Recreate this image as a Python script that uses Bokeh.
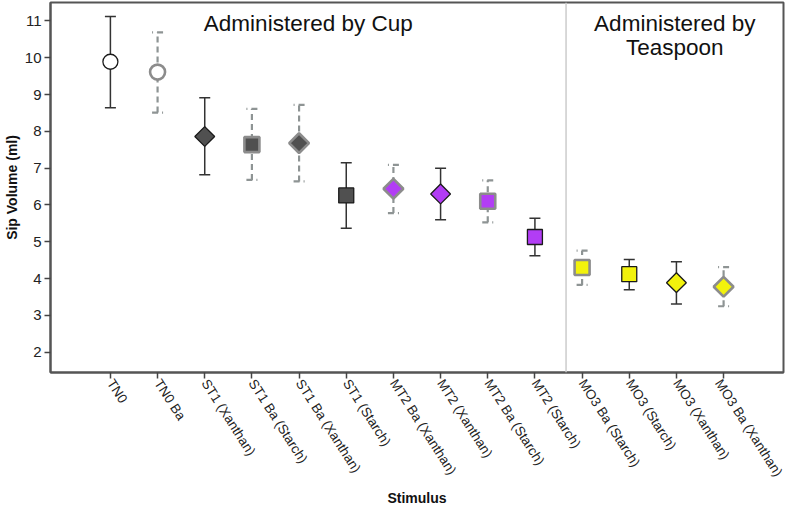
import numpy as np
from bokeh.plotting import figure
from bokeh.models import (ColumnDataSource, Whisker, TeeHead, Span, Label,
                          FixedTicker, Range1d)
from bokeh.embed import file_html
from bokeh.resources import INLINE

# ---- data ----
categories = ["TN0", "TN0 Ba", "ST1 (Xanthan)", "ST1 Ba (Starch)", "ST1 Ba (Xanthan)",
              "ST1 (Starch)", "MT2 Ba (Xanthan)", "MT2 (Xanthan)", "MT2 Ba (Starch)",
              "MT2 (Starch)", "MO3 Ba (Starch)", "MO3 (Starch)", "MO3 (Xanthan)",
              "MO3 Ba (Xanthan)"]
means = [9.89, 9.61, 7.86, 7.64, 7.68, 6.26, 6.44, 6.30, 6.10, 5.13, 4.30, 4.12, 3.89, 3.78]
upper = [11.12, 10.69, 8.91, 8.61, 8.72, 7.15, 7.09, 7.00, 6.67, 5.64, 4.76, 4.52, 4.46, 4.31]
lower = [8.64, 8.51, 6.82, 6.68, 6.64, 5.37, 5.78, 5.60, 5.53, 4.62, 3.83, 3.70, 3.31, 3.25]
y_ticks = [2, 3, 4, 5, 6, 7, 8, 9, 10, 11]
section_titles = [["Administered by Cup"], ["Administered by", "Teaspoon"]]

# ---- styling derived from stimulus names ----
FONT = "Liberation Sans"
group_fill = {"TN0": "#ffffff", "ST1": "#505050", "MT2": "#b23df5", "MO3": "#f2f20c"}
x_start, x_end = -1.27, 14.27
divider_x = 9.66

xs = np.arange(len(categories))
fills, outlines, owidths, markers, angles, sizes, dashed = [], [], [], [], [], [], []
for c in categories:
    g = c.split()[0]
    ba = " Ba" in c
    fills.append(group_fill[g])
    outlines.append("#8c8c8c" if ba else "#1a1a1a")
    owidths.append(2.6 if ba else 1.3)
    if "Xanthan" in c:
        markers.append("square"); angles.append(np.pi / 4); sizes.append(14)
    elif "Starch" in c:
        markers.append("square"); angles.append(0.0); sizes.append(15)
    else:
        markers.append("circle"); angles.append(0.0); sizes.append(15)
    dashed.append(ba)

data = dict(x=xs, y=means, upper=upper, lower=lower, fill=fills, outline=outlines,
            ow=owidths, marker=markers, angle=angles, size=sizes)
src = ColumnDataSource(data)
solid_idx = [i for i, d in enumerate(dashed) if not d]
dash_idx = [i for i, d in enumerate(dashed) if d]
src_solid = ColumnDataSource({k: [v[i] for i in solid_idx] for k, v in data.items()})
src_dash = ColumnDataSource({k: [v[i] for i in dash_idx] for k, v in data.items()})

p = figure(width=785, height=509, output_backend="svg", toolbar_location=None,
           x_range=Range1d(x_start, x_end), y_range=Range1d(1.45, 11.5),
           min_border_left=0, min_border_top=2, min_border_right=2, min_border_bottom=0)
p.grid.visible = False
p.outline_line_color = "#555555"
p.outline_line_width = 2
p.background_fill_color = "white"
p.border_fill_color = "white"

# error bars
solid_head = dict(size=11, line_color="#333333", line_width=1.5)
p.add_layout(Whisker(source=src_solid, base="x", upper="upper", lower="lower",
                     dimension="height", line_color="#333333", line_width=1.5,
                     upper_head=TeeHead(**solid_head), lower_head=TeeHead(**solid_head)))
dash_head = dict(size=11, line_color="#8e9494", line_width=2.2, line_dash="6 4")
p.add_layout(Whisker(source=src_dash, base="x", upper="upper", lower="lower",
                     dimension="height", line_color="#8e9494", line_width=2.2,
                     line_dash="6 4",
                     upper_head=TeeHead(**dash_head), lower_head=TeeHead(**dash_head)))

# markers
p.scatter(x="x", y="y", source=src, marker="marker", angle="angle", size="size",
          fill_color="fill", line_color="outline", line_width="ow")

# divider
p.add_layout(Span(location=divider_x, dimension="height", line_color="#cccccc",
                  line_width=1.5))

# section titles
centers = [(x_start + divider_x) / 2, (divider_x + x_end) / 2]
baselines = [10.92, 10.29]
for cx, lines in zip(centers, section_titles):
    for j, t in enumerate(lines):
        p.add_layout(Label(x=cx, y=baselines[j], text=t, text_align="center",
                           text_baseline="alphabetic", text_font=FONT,
                           text_font_size="22.5px", text_color="#111111"))

# axes
for ax in (p.xaxis[0], p.yaxis[0]):
    ax.axis_line_color = "#555555"
    ax.axis_line_width = 2
    ax.major_tick_line_color = "#444444"
    ax.major_tick_line_width = 1.5
    ax.major_tick_in = 0
    ax.major_tick_out = 6
    ax.minor_tick_in = 0
    ax.minor_tick_out = 0
    ax.major_label_text_font = FONT
    ax.major_label_text_color = "#222222"
    ax.axis_label_text_font = FONT
    ax.axis_label_text_font_size = "14px"
    ax.axis_label_text_font_style = "bold"
    ax.axis_label_text_color = "#111111"

p.yaxis.ticker = FixedTicker(ticks=y_ticks)
p.yaxis.axis_label = "Sip Volume (ml)"
p.yaxis.major_label_text_font_size = "15px"
p.yaxis.major_label_standoff = 3
p.yaxis.axis_label_standoff = 2

p.xaxis.ticker = FixedTicker(ticks=list(xs))
p.xaxis.major_label_overrides = {int(i): c for i, c in zip(xs, categories)}
p.xaxis.major_label_text_font_size = "13.5px"
p.xaxis.major_label_orientation = -1.0
p.xaxis.major_label_standoff = 2
p.xaxis.axis_label = "Stimulus"
p.xaxis.axis_label_standoff = 4

open("out.html", "w").write(file_html(p, INLINE))
